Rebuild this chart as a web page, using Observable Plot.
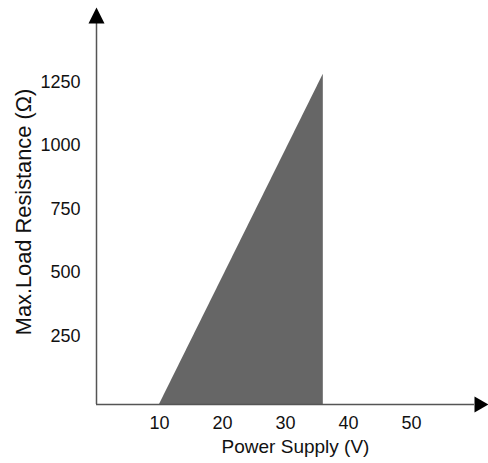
<!DOCTYPE html>
<html>
<head>
<meta charset="utf-8">
<script src="https://cdn.jsdelivr.net/npm/d3@7"></script>
<script src="https://cdn.jsdelivr.net/npm/@observablehq/plot@0.6"></script>
<style>
  html, body { margin: 0; padding: 0; background: #fff; }
</style>
</head>
<body>
<div id="chart"></div>
<script>
// Data
const supplyV = [10, 36];          // Power Supply (V)
const maxLoad = [0, 1300];         // Max. load resistance (Ω)
const xTicks = [10, 20, 30, 40, 50];
const yTicks = [250, 500, 750, 1000, 1250];
const xDomain = [0, 60];
const yDomain = [0, 1500];
const xLabel = "Power Supply (V)";
const yLabel = "Max.Load Resistance (Ω)";

const region = supplyV.map((v, i) => ({v, r: maxLoad[i]}));

const arrowUp = {draw(ctx) { ctx.moveTo(-8, 0); ctx.lineTo(8, 0); ctx.lineTo(0, -16); ctx.closePath(); }};
const arrowRight = {draw(ctx) { ctx.moveTo(0, -8); ctx.lineTo(0, 8); ctx.lineTo(14, 0); ctx.closePath(); }};

const chart = Plot.plot({
  width: 488,
  height: 463,
  marginLeft: 96,
  marginRight: 14,
  marginTop: 23,
  marginBottom: 59,
  style: {fontFamily: "Liberation Sans, Arial, sans-serif", fontSize: "18px", color: "#111", background: "#fff"},
  x: {domain: xDomain},
  y: {domain: yDomain},
  marks: [
    Plot.areaY(region, {x: "v", y: "r", fill: "#666"}),
    Plot.ruleX([xDomain[0]], {y1: yDomain[0], y2: yDomain[1], stroke: "#555", strokeWidth: 1.5}),
    Plot.ruleY([yDomain[0]], {x1: xDomain[0], x2: xDomain[1], stroke: "#555", strokeWidth: 1.5}),
    Plot.dot([{x: xDomain[0], y: yDomain[1]}], {x: "x", y: "y", symbol: arrowUp, fill: "#000", stroke: null, r: 8}),
    Plot.dot([{x: xDomain[1], y: yDomain[0]}], {x: "x", y: "y", symbol: arrowRight, fill: "#000", stroke: null, r: 8}),
    Plot.axisX({ticks: xTicks, tickSize: 0, tickPadding: 12, tickFormat: d => String(d), label: null}),
    Plot.axisY({ticks: yTicks, tickSize: 0, tickPadding: 16, dy: -5, tickFormat: d => String(d), label: null}),
    Plot.text([xLabel], {text: d => d, frameAnchor: "bottom", textAnchor: "middle", lineAnchor: "middle", dx: 10, dy: 42, fontSize: 19, fill: "#111"}),
    Plot.text([yLabel], {text: d => d, frameAnchor: "left", textAnchor: "middle", lineAnchor: "middle", rotate: -90, dx: -72, dy: -2, fontSize: 21.8, fill: "#111"})
  ]
});
document.getElementById("chart").appendChild(chart);
</script>
</body>
</html>
